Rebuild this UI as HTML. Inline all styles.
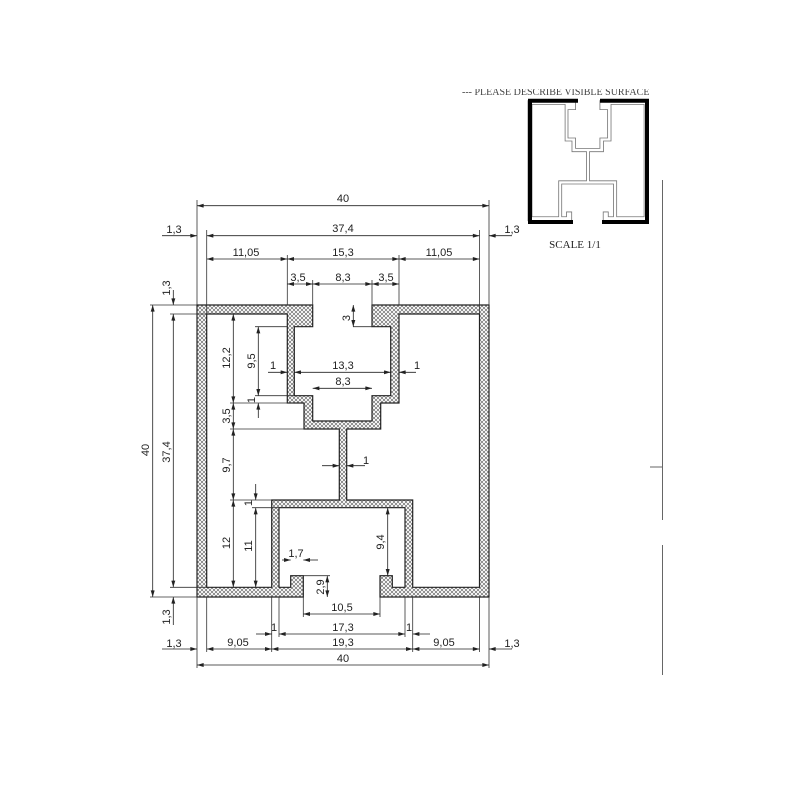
<!DOCTYPE html>
<html><head><meta charset="utf-8"><style>
html,body{margin:0;padding:0;background:#fff;}
svg{display:block;}
text{font-family:"Liberation Sans",sans-serif;font-size:11px;fill:#222;}
</style></head><body>
<svg width="800" height="800" viewBox="0 0 800 800" xmlns="http://www.w3.org/2000/svg">
<defs>
<pattern id="h" width="4" height="4" patternUnits="userSpaceOnUse">
<rect width="4" height="4" fill="#fff"/>
<path d="M0,0L4,4M4,0L0,4" stroke="#555" stroke-width="0.6"/>
</pattern>
<marker id="a" viewBox="0 0 10 6" refX="10" refY="3" markerWidth="8" markerHeight="4" orient="auto-start-reverse" markerUnits="userSpaceOnUse">
<path d="M0,0L10,3L0,6Z" fill="#222"/>
</marker>
</defs>

<path fill="url(#h)" stroke="#222" stroke-width="1.2" fill-rule="evenodd" d="
M197,305 L312.7,305 L312.7,326.7 L294.3,326.7 L294.3,395.7 L312.7,395.7 L312.7,421 L372,421 L372,395.7 L390.7,395.7 L390.7,326.7 L372,326.7 L372,305 L489,305 L489,597 L380,597 L380,575.7 L392.3,575.7 L392.3,587.3 L405,587.3 L405,507.7 L279,507.7 L279,587.3 L290.7,587.3 L290.7,575.7 L303.3,575.7 L303.3,597 L197,597 Z
M206.7,314 L287.3,314 L287.3,403 L304,403 L304,429 L339.3,429 L339.3,500 L271.7,500 L271.7,587.3 L206.7,587.3 Z
M399,314 L479.5,314 L479.5,587.3 L412.7,587.3 L412.7,500 L346.7,500 L346.7,429 L380.7,429 L380.7,403 L399,403 Z"/>

<g stroke="#333" stroke-width="0.8" fill="none">
<path d="M197,200V305M489,200V305M206.7,230V314M479.5,230V314M287.3,255V305M399,255V305M312.7,280V305M372,280V305M353,326.7H372"/>
<path d="M150,305H197M170,314H206.7M150,597H197M170,587.3H206.7"/>
<path d="M230,403H294M230,429H304M255,326.7H287M255,395.7H294M230,500H272M252,507.7H279"/>
<path d="M303.3,575.7H330M303.3,597V617M380,597V617"/>
<path d="M197,597V668M489,597V668M206.7,597V652M479.5,597V652M271.7,597V652M412.7,597V652M279,597V637M405,597V637"/>
</g>

<g stroke="#222" stroke-width="0.8" fill="none" marker-start="url(#a)" marker-end="url(#a)">
<line x1="197" y1="205.7" x2="489" y2="205.7"/>
<line x1="206.7" y1="235.7" x2="479.5" y2="235.7"/>
<line x1="206.7" y1="259" x2="287.3" y2="259"/>
<line x1="287.3" y1="259" x2="399" y2="259"/>
<line x1="399" y1="259" x2="479.5" y2="259"/>
<line x1="287.3" y1="284" x2="312.7" y2="284"/>
<line x1="312.7" y1="284" x2="372" y2="284"/>
<line x1="372" y1="284" x2="399" y2="284"/>
<line x1="353.3" y1="305" x2="353.3" y2="326.7"/>
<line x1="152.7" y1="305" x2="152.7" y2="597"/>
<line x1="173.3" y1="314" x2="173.3" y2="587.3"/>
<line x1="233.3" y1="314" x2="233.3" y2="403"/>
<line x1="258.3" y1="326.7" x2="258.3" y2="395.7"/>
<line x1="233.3" y1="403" x2="233.3" y2="429"/>
<line x1="294.3" y1="372.3" x2="390.7" y2="372.3"/>
<line x1="312.7" y1="388.3" x2="372" y2="388.3"/>
<line x1="233.3" y1="429" x2="233.3" y2="500"/>
<line x1="233.3" y1="500" x2="233.3" y2="587.3"/>
<line x1="255.7" y1="507.7" x2="255.7" y2="587.3"/>
<line x1="387.7" y1="507.7" x2="387.7" y2="575.7"/>
<line x1="327.3" y1="575.7" x2="327.3" y2="597"/>
<line x1="303.3" y1="614" x2="380" y2="614"/>
<line x1="279" y1="634" x2="405" y2="634"/>
<line x1="271.7" y1="649" x2="412.7" y2="649"/>
<line x1="206.7" y1="649" x2="271.7" y2="649"/>
<line x1="412.7" y1="649" x2="479.5" y2="649"/>
<line x1="197" y1="665" x2="489" y2="665"/>
</g>
<g stroke="#222" stroke-width="0.8" fill="none" marker-end="url(#a)">
<line x1="162" y1="235.7" x2="197" y2="235.7"/>
<line x1="512" y1="235.7" x2="489" y2="235.7"/>
<line x1="162" y1="649" x2="197" y2="649"/>
<line x1="512" y1="649" x2="489" y2="649"/>
<line x1="173.3" y1="290" x2="173.3" y2="305"/>
<line x1="173.3" y1="625" x2="173.3" y2="597"/>
<line x1="268" y1="372.3" x2="287.3" y2="372.3"/>
<line x1="416" y1="372.3" x2="399" y2="372.3"/>
<line x1="258.3" y1="418" x2="258.3" y2="403"/>
<line x1="255.7" y1="484" x2="255.7" y2="500"/>
<line x1="322" y1="465.7" x2="339.3" y2="465.7"/>
<line x1="365" y1="465.7" x2="346.7" y2="465.7"/>
<line x1="282" y1="560" x2="290.7" y2="560"/>
<line x1="318" y1="560" x2="303.3" y2="560"/>
<line x1="256" y1="634" x2="271.7" y2="634"/>
<line x1="430" y1="634" x2="412.7" y2="634"/>
</g>

<g text-anchor="middle">
<text x="343" y="202">40</text>
<text x="343" y="232">37,4</text>
<text x="174" y="233">1,3</text>
<text x="512" y="233">1,3</text>
<text x="246" y="256">11,05</text>
<text x="343" y="256">15,3</text>
<text x="439" y="256">11,05</text>
<text x="298" y="281">3,5</text>
<text x="343" y="281">8,3</text>
<text x="386" y="281">3,5</text>
<text x="343" y="369">13,3</text>
<text x="343" y="385">8,3</text>
<text x="273" y="369">1</text>
<text x="417" y="369">1</text>
<text x="366" y="464">1</text>
<text x="296" y="557">1,7</text>
<text x="342" y="611">10,5</text>
<text x="343" y="631">17,3</text>
<text x="274" y="631">1</text>
<text x="409" y="631">1</text>
<text x="343" y="646">19,3</text>
<text x="238" y="646">9,05</text>
<text x="444" y="646">9,05</text>
<text x="174" y="647">1,3</text>
<text x="512" y="647">1,3</text>
<text x="343" y="662">40</text>
</g>
<g text-anchor="middle">
<text transform="translate(149,450) rotate(-90)">40</text>
<text transform="translate(170,452) rotate(-90)">37,4</text>
<text transform="translate(170,288) rotate(-90)">1,3</text>
<text transform="translate(170,617) rotate(-90)">1,3</text>
<text transform="translate(230,358) rotate(-90)">12,2</text>
<text transform="translate(255,361) rotate(-90)">9,5</text>
<text transform="translate(255,400) rotate(-90)">1</text>
<text transform="translate(230,416) rotate(-90)">3,5</text>
<text transform="translate(350,318) rotate(-90)">3</text>
<text transform="translate(230,465) rotate(-90)">9,7</text>
<text transform="translate(252,503) rotate(-90)">1</text>
<text transform="translate(230,543) rotate(-90)">12</text>
<text transform="translate(252,546) rotate(-90)">11</text>
<text transform="translate(384,542) rotate(-90)">9,4</text>
<text transform="translate(324,587) rotate(-90)">2,9</text>
</g>

<text x="462" y="95" style="font-family:'Liberation Serif',serif;font-size:10px;fill:#444;">--- PLEASE DESCRIBE VISIBLE SURFACE</text>
<rect x="450" y="80" width="230" height="9" fill="#fff"/>
<g transform="translate(528,100.7) scale(0.411) translate(-197,-305)" fill="none" stroke="#777" stroke-width="2">
<path d="M197,305 L312.7,305 L312.7,326.7 L294.3,326.7 L294.3,395.7 L312.7,395.7 L312.7,421 L372,421 L372,395.7 L390.7,395.7 L390.7,326.7 L372,326.7 L372,305 L489,305 L489,597 L380,597 L380,575.7 L392.3,575.7 L392.3,587.3 L405,587.3 L405,507.7 L279,507.7 L279,587.3 L290.7,587.3 L290.7,575.7 L303.3,575.7 L303.3,597 L197,597 Z
M206.7,314 L287.3,314 L287.3,403 L304,403 L304,429 L339.3,429 L339.3,500 L271.7,500 L271.7,587.3 L206.7,587.3 Z
M399,314 L479.5,314 L479.5,587.3 L412.7,587.3 L412.7,500 L346.7,500 L346.7,429 L380.7,429 L380.7,403 L399,403 Z"/>
</g>
<g stroke="#000" stroke-width="4" fill="none" stroke-linecap="square">
<path d="M576,100.7H530V222H571"/>
<path d="M602,100.7H647V222H604"/>
</g>
<text x="575" y="248" text-anchor="middle" style="font-family:'Liberation Serif',serif;font-size:11px;">SCALE 1/1</text>

<g stroke="#666" stroke-width="1">
<line x1="662.5" y1="180" x2="662.5" y2="520"/>
<line x1="662.5" y1="545" x2="662.5" y2="675"/>
<line x1="650" y1="467" x2="662.5" y2="467"/>
</g>
</svg>
</body></html>
